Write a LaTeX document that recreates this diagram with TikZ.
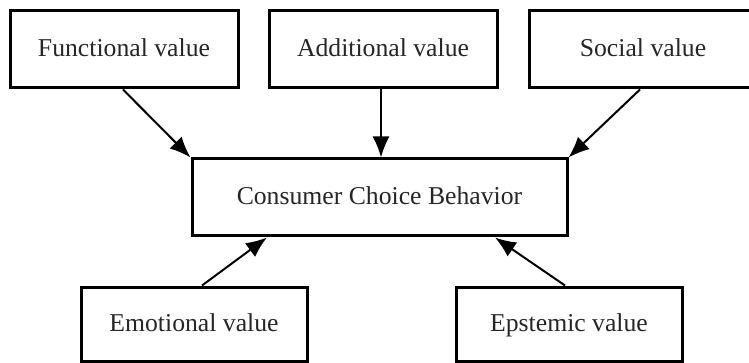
\documentclass[tikz,border=0pt]{standalone}
\usepackage{fontspec}
\setmainfont{Liberation Serif}
\usetikzlibrary{arrows.meta}
\begin{document}
\begin{tikzpicture}[x=1pt,y=-1pt,
  valbox/.style={draw=black, line width=3pt, rectangle, inner sep=0pt,
    minimum width=228pt, minimum height=77pt, text=black!85,
    text height=19pt, text depth=4pt,
    font=\fontsize{25.7}{30}\selectfont},
  conn/.style={line width=2pt, -{Latex[length=21pt,width=17pt]}}
]
\useasboundingbox (0,0) rectangle (749,363);
\clip (0,0) rectangle (749,363);
\node[valbox] (f) at (124,49.5) {Functional value};
\node[valbox] (a) at (383,49.5) {Additional value};
\node[valbox] (s) at (643,49.5) {Social value};
\node[valbox, minimum width=375pt] (c) at (379.5,197.5) {Consumer Choice Behavior};
\node[valbox, minimum width=226pt, minimum height=74pt] (e) at (194,324) {Emotional value};
\node[valbox, minimum width=226pt, minimum height=74pt] (p) at (569,324) {Epstemic value};
\draw[conn] ([xshift=-1pt]f.south) -- (c.north west);
\draw[conn] ([xshift=-2pt]a.south) -- ([xshift=-2pt]a.south |- c.north);
\draw[conn] ([xshift=-3pt]s.south) -- (c.north east);
\draw[conn] ([xshift=8pt]e.north) -- ([xshift=-112.5pt]c.south);
\draw[conn] ([xshift=-4pt]p.north) -- ([xshift=115.5pt]c.south);
\end{tikzpicture}
\end{document}
